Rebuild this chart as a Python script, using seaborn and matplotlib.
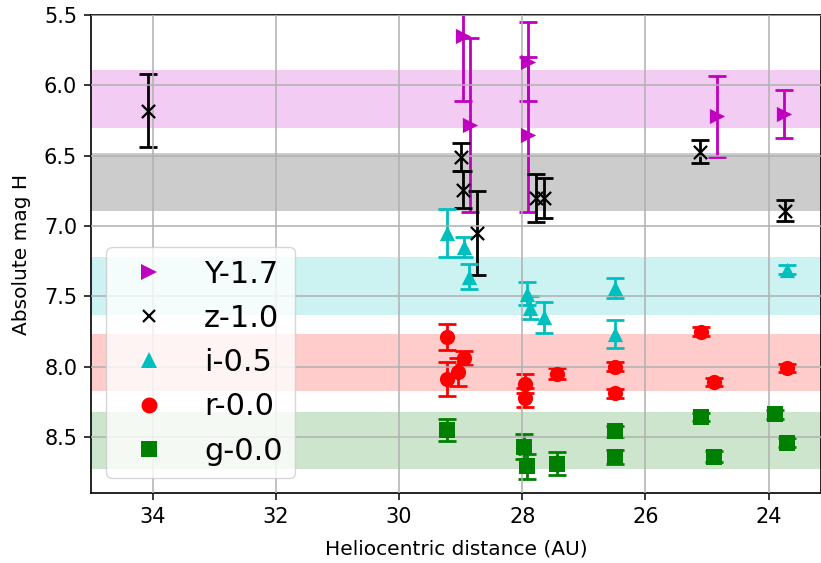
import seaborn as sns
import matplotlib
matplotlib.use("Agg")
import matplotlib.pyplot as plt
from matplotlib.lines import Line2D

# data (distance in AU, absolute mag H, error)
Y_dist = [28.97, 28.85, 27.90, 27.90, 24.84, 23.75]
Y_mag = [5.65, 6.28, 5.83, 6.35, 6.22, 6.20]
Y_err = [0.46, 0.62, 0.28, 0.55, 0.29, 0.17]

z_dist = [34.07, 29.00, 28.97, 28.74, 27.78, 27.64, 25.12, 23.74]
z_mag = [6.18, 6.51, 6.74, 7.05, 6.80, 6.80, 6.47, 6.89]
z_err = [0.26, 0.10, 0.13, 0.30, 0.17, 0.14, 0.08, 0.075]

i_dist = [29.23, 28.95, 28.87, 27.93, 27.87, 27.64, 26.49, 26.49, 23.70]
i_mag = [7.05, 7.15, 7.36, 7.48, 7.58, 7.65, 7.44, 7.77, 7.31]
i_err = [0.17, 0.07, 0.09, 0.08, 0.08, 0.11, 0.07, 0.10, 0.03]

r_dist = [29.23, 29.23, 29.05, 28.95, 27.96, 27.96, 27.44, 26.49, 26.49, 25.10, 24.89, 23.70]
r_mag = [7.79, 8.09, 8.04, 7.94, 8.12, 8.22, 8.05, 8.00, 8.19, 7.75, 8.11, 8.01]
r_err = [0.09, 0.12, 0.10, 0.05, 0.07, 0.07, 0.04, 0.03, 0.03, 0.03, 0.03, 0.03]

g_dist = [29.23, 27.98, 27.93, 27.44, 26.49, 26.49, 25.10, 24.89, 23.90, 23.70]
g_mag = [8.45, 8.57, 8.71, 8.69, 8.46, 8.64, 8.36, 8.64, 8.34, 8.54]
g_err = [0.08, 0.09, 0.09, 0.08, 0.04, 0.05, 0.03, 0.04, 0.03, 0.03]

# mean +/- spread band per filter
band_lo = [5.89, 6.48, 7.22, 7.77, 8.32]
band_hi = [6.30, 6.89, 7.63, 8.17, 8.73]

labels = ["Y-1.7", "z-1.0", "i-0.5", "r-0.0", "g-0.0"]
colors = ["m", "k", "c", "r", "g"]
markers = [">", "x", "^", "o", "s"]

series = [(Y_dist, Y_mag, Y_err), (z_dist, z_mag, z_err), (i_dist, i_mag, i_err),
          (r_dist, r_mag, r_err), (g_dist, g_mag, g_err)]

fig, ax = plt.subplots(figsize=(8.21, 5.63), dpi=100)
fig.subplots_adjust(left=0.111, right=1.0, top=0.973, bottom=0.124)

for lo, hi, c in zip(band_lo, band_hi, colors):
    ax.axhspan(lo, hi, color=c, alpha=0.2, lw=0, zorder=0)

handles = []
for (d, m, e), lab, c, mk in zip(series, labels, colors, markers):
    ax.errorbar(d, m, yerr=e, fmt="none", ecolor=c, elinewidth=2, capsize=6.5,
                capthick=2, zorder=2)
    if mk == "x":
        sns.scatterplot(x=d, y=m, ax=ax, color=c, marker=mk, s=90,
                        linewidth=1.6, zorder=3)
    else:
        sns.scatterplot(x=d, y=m, ax=ax, color=c, marker=mk, s=120,
                        linewidth=0, zorder=3)
    handles.append(Line2D([], [], ls="none", marker=mk, color=c,
                          markersize=9 if mk == "x" else 11.5,
                          markeredgewidth=1.6 if mk == "x" else 0, label=lab))

ax.grid(True, color="#b0b0b0", lw=1.1, zorder=1)
ax.set_axisbelow(False)
ax.set_xlim(35, 23.15)
ax.set_ylim(8.9, 5.5)
ax.set_xticks([34, 32, 30, 28, 26, 24])
ax.set_yticks([5.5, 6.0, 6.5, 7.0, 7.5, 8.0, 8.5])
ax.tick_params(labelsize=15, width=1.1, length=5, pad=5)
for sp in ax.spines.values():
    sp.set_linewidth(1.2)
ax.set_xlabel("Heliocentric distance (AU)", fontsize=14.5, labelpad=9)
ax.set_ylabel("Absolute mag H", fontsize=14.5, labelpad=9)
ax.legend(handles=handles, loc="lower left", fontsize=22)

fig.savefig("out.png", dpi=100)
